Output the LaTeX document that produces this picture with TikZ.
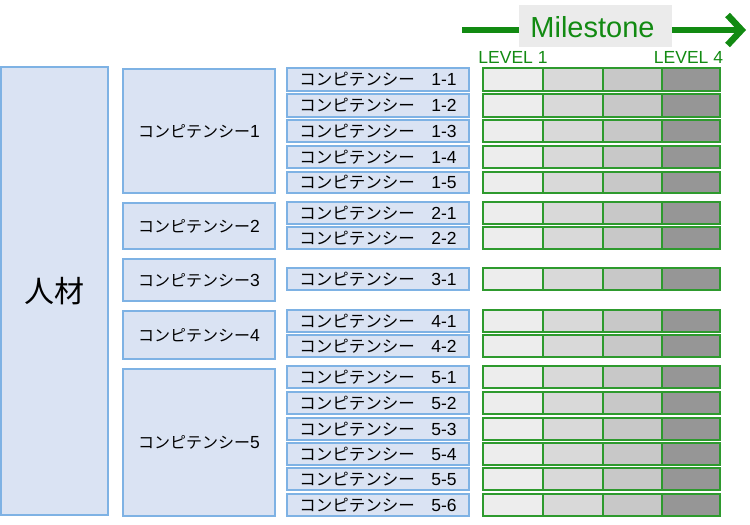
\documentclass[tikz,border=0pt]{standalone}
\usepackage{fontspec}
\setmainfont{Noto Sans CJK JP}
\newfontfamily\latinfont{Liberation Sans}
\usetikzlibrary{arrows.meta}
\definecolor{bfill}{HTML}{DAE3F3}
\definecolor{bdraw}{HTML}{7EB2E4}
\definecolor{gdraw}{HTML}{2E9A2E}
\definecolor{mgreen}{HTML}{128A12}
\definecolor{lvA}{HTML}{EDEDED}
\definecolor{lvB}{HTML}{D9D9D9}
\definecolor{lvC}{HTML}{C8C8C8}
\definecolor{lvD}{HTML}{969696}
\definecolor{mgray}{HTML}{EBEBEB}
\newcommand{\numtxt}[1]{{\latinfont\fontsize{17.5}{17.5}\selectfont #1}}
\begin{document}
\begin{tikzpicture}[x=1pt,y=-1pt,
  bluebox/.style={draw=bdraw,fill=bfill,line width=1.3pt,inner sep=0pt,rectangle},
  subbox/.style={bluebox,minimum width=182pt,font=\fontsize{16.5}{16.5}\selectfont},
  compbox/.style={bluebox,minimum width=152pt,font=\fontsize{16}{16}\selectfont},
  cell/.style={draw=gdraw,line width=1.3pt,inner sep=0pt,rectangle},
  greentext/.style={text=mgreen,font=\latinfont\fontsize{17.5}{17.5}\selectfont,inner sep=0pt},
  arrowline/.style={draw=mgreen,line width=6.5pt}]
\useasboundingbox (0,0) rectangle (750,525);

% top-level box
\node[bluebox,minimum width=107pt,minimum height=448pt,font=\fontsize{30}{30}\selectfont] (jinzai) at (54.5,291) {人材};

% competency boxes
\foreach \n/\t/\b in {1/69/193, 2/203/249, 3/259/301, 4/311/359, 5/369/516}{
  \pgfmathsetmacro\c{(\t+\b)/2}
  \pgfmathsetmacro\h{\b-\t}
  \node[compbox,minimum height=\h pt] (c\n) at (199,\c) {コンピテンシー\numtxt{\n}};
}

% sub-competency boxes and level bars
\foreach \n/\t/\b/\lab in {11/68/91/1-1, 12/94/117/1-2, 13/120/142/1-3, 14/146/168/1-4, 15/172/193/1-5,
  21/202/224/2-1, 22/227/249/2-2, 31/268/290/3-1, 41/310/332/4-1, 42/335/357/4-2,
  51/366/388/5-1, 52/392/414/5-2, 53/418/440/5-3, 54/443/465/5-4, 55/468/490/5-5, 56/494/516/5-6}{
  \pgfmathsetmacro\c{(\t+\b)/2}
  \pgfmathsetmacro\h{\b-\t}
  \node[subbox,minimum height=\h pt] (s\n) at (378,\c) {コンピテンシー　\numtxt{\lab}};
  \node[cell,fill=lvA,minimum width=60pt,minimum height=\h pt] (la\n) at (513,\c) {};
  \node[cell,fill=lvB,minimum width=60pt,minimum height=\h pt] (lb\n) at (573,\c) {};
  \node[cell,fill=lvC,minimum width=59pt,minimum height=\h pt] (lc\n) at (632.5,\c) {};
  \node[cell,fill=lvD,minimum width=58pt,minimum height=\h pt] (ld\n) at (691,\c) {};
}

% milestone header
\node[fill=mgray,minimum width=153pt,minimum height=42pt,inner sep=0pt] (ms) at (595.5,26) {};
\node[text=mgreen,font=\latinfont\fontsize{29}{29}\selectfont,inner sep=0pt,anchor=base] (mstext) at (592.5,37.5) {Milestone};
\coordinate (arrL) at (462,30);
\coordinate (arrR) at (746,30);
\coordinate (msL) at (519,30);
\coordinate (msR) at (672,30);
\draw[arrowline] (arrL) -- (msL);
\draw[arrowline,-{Straight Barb[length=14pt,width=30pt]}] (msR) -- (arrR);

\node[greentext,anchor=base] (lv1) at (513,63) {LEVEL 1};
\node[greentext,anchor=base] (lv4) at (688.5,63) {LEVEL 4};
\end{tikzpicture}
\end{document}
